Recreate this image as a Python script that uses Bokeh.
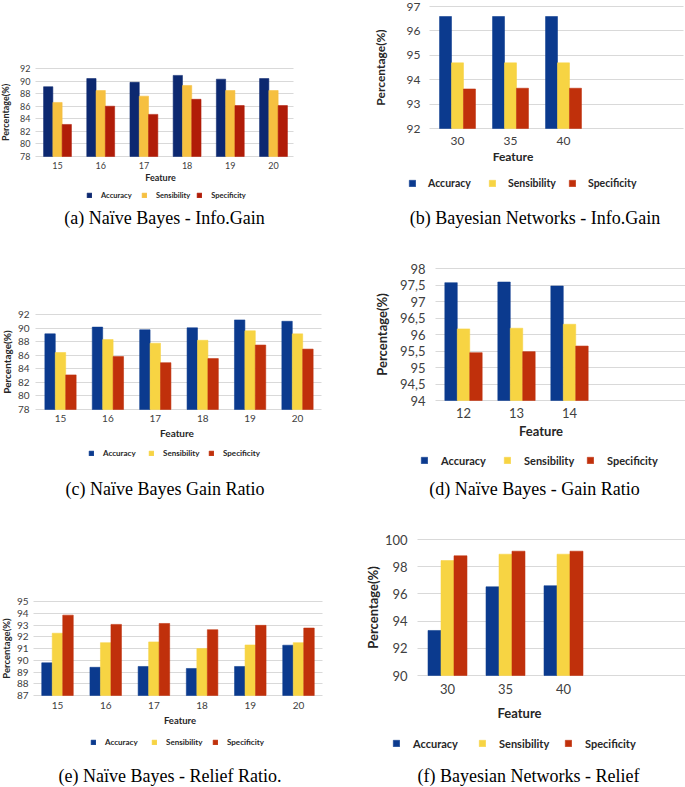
from bokeh.plotting import figure
from bokeh.models import Range1d, FixedTicker, Legend, LegendItem, Label, ColumnDataSource
from bokeh.layouts import column, row
from bokeh.transform import dodge
from bokeh.embed import file_html
from bokeh.resources import INLINE

series = ["Accuracy", "Sensibility", "Specificity"]

# (a) Naive Bayes - Info.Gain
a_features = ["15", "16", "17", "18", "19", "20"]
a_accuracy = [89.1, 90.4, 89.8, 90.9, 90.3, 90.4]
a_sensibility = [86.6, 88.5, 87.6, 89.3, 88.5, 88.5]
a_specificity = [83.1, 86.0, 84.7, 87.1, 86.1, 86.1]
a_yticks = [78, 80, 82, 84, 86, 88, 90, 92]
a_ylabels = ["78", "80", "82", "84", "86", "88", "90", "92"]

# (b) Bayesian Networks - Info.Gain
b_features = ["30", "35", "40"]
b_accuracy = [96.59, 96.59, 96.59]
b_sensibility = [94.69, 94.69, 94.69]
b_specificity = [93.62, 93.65, 93.65]
b_yticks = [92, 93, 94, 95, 96, 97]
b_ylabels = ["92", "93", "94", "95", "96", "97"]

# (c) Naive Bayes Gain Ratio
c_features = ["15", "16", "17", "18", "19", "20"]
c_accuracy = [89.15, 90.14, 89.75, 90.04, 91.2, 91.0]
c_sensibility = [86.4, 88.3, 87.77, 88.2, 89.6, 89.15]
c_specificity = [83.1, 85.8, 84.9, 85.5, 87.5, 86.9]
c_yticks = [78, 80, 82, 84, 86, 88, 90, 92]
c_ylabels = ["78", "80", "82", "84", "86", "88", "90", "92"]

# (d) Naive Bayes - Gain Ratio
d_features = ["12", "13", "14"]
d_accuracy = [97.57, 97.59, 97.47]
d_sensibility = [96.17, 96.19, 96.31]
d_specificity = [95.45, 95.48, 95.65]
d_yticks = [94, 94.5, 95, 95.5, 96, 96.5, 97, 97.5, 98]
d_ylabels = ["94", "94,5", "95", "95,5", "96", "96,5", "97", "97,5", "98"]

# (e) Naive Bayes - Relief Ratio
e_features = ["15", "16", "17", "18", "19", "20"]
e_accuracy = [89.78, 89.4, 89.47, 89.3, 89.47, 91.28]
e_sensibility = [92.3, 91.5, 91.56, 91.0, 91.3, 91.5]
e_specificity = [93.84, 93.05, 93.13, 92.6, 92.97, 92.74]
e_yticks = [87, 88, 89, 90, 91, 92, 93, 94, 95]
e_ylabels = ["87", "88", "89", "90", "91", "92", "93", "94", "95"]

# (f) Bayesian Networks - Relief
f_features = ["30", "35", "40"]
f_accuracy = [93.31, 96.52, 96.6]
f_sensibility = [98.45, 98.92, 98.92]
f_specificity = [98.8, 99.14, 99.14]
f_yticks = [90, 92, 94, 96, 98, 100]
f_ylabels = ["90", "92", "94", "96", "98", "100"]

FONT = "Lato"
SERIF = "Liberation Serif"
COLORS_DARK = ["#0c2870", "#f6c040", "#b01c08"]
COLORS = ["#0b3a8e", "#f7d443", "#c0300b"]


def panel(features, vals, yticks, ylabels, caption, g):
    # g: pixel geometry of the panel (layout only)
    W, H = g["w"], g["h"]
    c0, s = g["c0"], g["s"]               # px of first category centre, px per category
    ybase, ytop = yticks[0], yticks[-1]
    upp = (ytop - ybase) / (g["pb"] - g["pt"])
    x_rng = Range1d(-c0 / s, (W - c0) / s)
    y_rng = Range1d(ybase - (H - g["pb"]) * upp, ytop + g["pt"] * upp)
    p = figure(width=W, height=H, output_backend="svg", toolbar_location=None,
               x_range=x_rng, y_range=y_rng, min_border=0)
    p.outline_line_color = None
    p.xgrid.grid_line_color = None
    p.ygrid.grid_line_color = None
    idx = list(range(len(features)))
    bw = g["bw"]
    colors = g["colors"]
    rs = []
    for k, name in enumerate(series):
        src = ColumnDataSource(dict(x=idx, top=vals[k]))
        r = p.vbar(x=dodge("x", (k - 1) * bw, range=p.x_range), top="top", bottom=ybase,
                   width=bw, source=src, fill_color=colors[k], line_color=colors[k],
                   line_alpha=0.55, line_width=1, level="glyph")
        rs.append(r)
    xa, ya = p.xaxis[0], p.yaxis[0]
    xa.ticker = FixedTicker(ticks=idx)
    xa.major_label_overrides = {i: f for i, f in zip(idx, features)}
    ya.ticker = FixedTicker(ticks=yticks)
    ya.major_label_overrides = {t: l for t, l in zip(yticks, ylabels)}
    for ax in (xa, ya):
        ax.axis_line_color = None
        ax.minor_tick_line_color = None
        ax.minor_tick_out = 0
        ax.minor_tick_in = 0
        ax.major_tick_out = 0
        ax.major_label_text_font = FONT
        ax.major_label_text_color = "#404040"
        ax.major_label_text_font_size = g["tick_fs"]
        ax.axis_label_text_font = FONT
        ax.axis_label_text_font_style = "bold"
        ax.axis_label_text_color = "#262626"
        ax.axis_label_text_font_size = g["lab_fs"]
    # x axis sits on the baseline
    xa.fixed_location = ybase
    xa.bounds = g["xb"]
    xa.major_tick_line_color = None
    xa.major_tick_in = 0
    xa.axis_label = "Feature"
    xa.major_label_standoff = g["xstand"]
    xa.axis_label_standoff = g["xlabstand"]
    # y axis at the left end of the gridlines; its long inner ticks are the gridlines
    ya.fixed_location = (g["g0"] - c0) / s
    ya.bounds = (ybase, ytop)
    ya.major_tick_in = g["g1"] - g["g0"]
    ya.major_tick_line_color = "#d9d9d9"
    ya.major_tick_line_width = 1
    ya.axis_label = "Percentage(%)"
    ya.major_label_standoff = g["ystand"]
    ya.axis_label_standoff = g["ylabstand"]
    ya.level = "underlay"
    # legend below the axis
    items = [LegendItem(label=n, renderers=[r]) for n, r in zip(series, rs)]
    gl = g["g"]
    leg = Legend(items=items, orientation="horizontal", location=(g["lx"], g["ly"]),
                 glyph_width=gl, glyph_height=gl, label_standoff=g["lstand"],
                 label_width=g["lw"], spacing=g["lsp"], label_height=gl,
                 label_text_font=FONT, label_text_font_style="bold",
                 label_text_font_size=g["leg_fs"], label_text_color="#262626",
                 padding=0, margin=0, border_line_color=None,
                 background_fill_alpha=0)
    p.add_layout(leg, "center")
    cap = Label(x=g["cx"], y=g["cy"], x_units="screen", y_units="screen", text=caption,
                text_font=SERIF, text_font_size="18px", text_color="#000000",
                text_align="center", text_baseline="middle")
    p.add_layout(cap)
    return p


pa = panel(a_features, [a_accuracy, a_sensibility, a_specificity], a_yticks, a_ylabels,
           "(a) Naïve Bayes - Info.Gain",
           dict(w=340, h=235, c0=57, s=43.2, g0=35, g1=293, pt=68, pb=156, bw=0.215,
                colors=COLORS_DARK, tick_fs="9px", lab_fs="9px", ystand=5, ylabstand=6,
                xstand=5, xlabstand=0, xb=(-0.5, 5.27), g=6, lstand=9, lw=34, lsp=6,
                leg_fs="7.5px", lx=86, ly=35.5, cx=164, cy=18))
pb = panel(b_features, [b_accuracy, b_sensibility, b_specificity], b_yticks, b_ylabels,
           "(b) Bayesian Networks - Info.Gain",
           dict(w=345, h=235, c0=117, s=53, g0=89, g1=343, pt=6, pb=128, bw=0.226,
                colors=COLORS, tick_fs="12px", lab_fs="12px", ystand=9, ylabstand=16,
                xstand=8, xlabstand=1, xb=(-0.5, 2.58), g=8, lstand=12, lw=54, lsp=6,
                leg_fs="10.5px", lx=68, ly=45.7, cx=194.5, cy=18))
pc = panel(c_features, [c_accuracy, c_sensibility, c_specificity], c_yticks, c_ylabels,
           "(c) Naïve Bayes Gain Ratio",
           dict(w=340, h=275, c0=60, s=47.4, g0=35, g1=321, pt=79, pb=174, bw=0.22,
                colors=COLORS, tick_fs="10px", lab_fs="10px", ystand=6, ylabstand=2,
                xstand=5, xlabstand=2, xb=(-0.5, 5.42), g=6, lstand=9, lw=37, lsp=8,
                leg_fs="8px", lx=88, ly=52.2, cx=164.5, cy=22))
pd_ = panel(d_features, [d_accuracy, d_sensibility, d_specificity], d_yticks, d_ylabels,
            "(d) Naïve Bayes - Gain Ratio",
            dict(w=345, h=275, c0=123, s=53, g0=95, g1=345, pt=33, pb=165, bw=0.235,
                 colors=COLORS, tick_fs="13px", lab_fs="13px", ystand=10, ylabstand=7,
                 xstand=7, xlabstand=2, xb=(-0.5, 3.41), g=8, lstand=13, lw=55, lsp=7,
                 leg_fs="11px", lx=80, ly=43.4, cx=194, cy=22))
pe = panel(e_features, [e_accuracy, e_sensibility, e_specificity], e_yticks, e_ylabels,
           "(e) Naïve Bayes - Relief Ratio.",
           dict(w=340, h=277, c0=57, s=48.2, g0=33, g1=322, pt=91, pb=185, bw=0.218,
                colors=COLORS, tick_fs="10px", lab_fs="9.5px", ystand=5, ylabstand=2,
                xstand=6, xlabstand=3, xb=(-0.5, 5.58), g=6, lstand=9, lw=37, lsp=9,
                leg_fs="8px", lx=90, ly=40.2, cx=169.5, cy=12))
pf = panel(f_features, [f_accuracy, f_sensibility, f_specificity], f_yticks, f_ylabels,
           "(f) Bayesian Networks - Relief",
           dict(w=345, h=277, c0=107, s=58, g0=77, g1=345, pt=29, pb=165, bw=0.224,
                colors=COLORS, tick_fs="13px", lab_fs="13px", ystand=10, ylabstand=1,
                xstand=8, xlabstand=8, xb=(-0.5, 2.98), g=8, lstand=13, lw=57, lsp=8,
                leg_fs="11px", lx=52, ly=37.4, cx=188, cy=12))

layout = column(row(pa, pb), row(pc, pd_), row(pe, pf))
open("out.html", "w").write(file_html(layout, INLINE))
